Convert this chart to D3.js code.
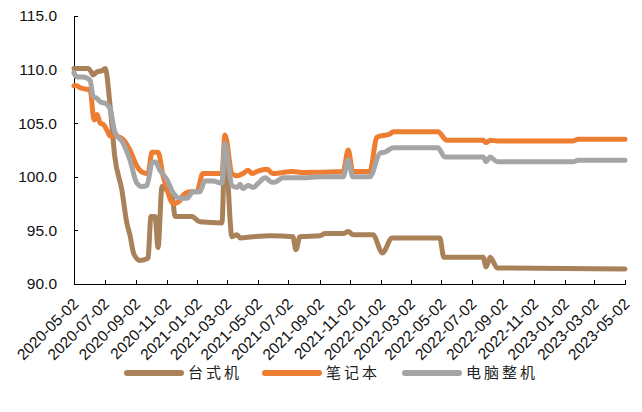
<!DOCTYPE html>
<html>
<head>
<meta charset="utf-8">
<script src="https://cdn.jsdelivr.net/npm/d3@7/dist/d3.min.js"></script>
<style>
  html, body { margin: 0; padding: 0; background: #fff; }
  svg { display: block; }
  .axis text { font-family: "Liberation Sans", Arial, sans-serif; font-size: 15.5px; fill: #111; }
  .axis path, .axis line { stroke: #000; stroke-width: 1; shape-rendering: crispEdges; }
  .legend text { font-family: "Noto Sans CJK SC", sans-serif; font-size: 15px; letter-spacing: 3px; fill: #222; }
</style>
</head>
<body>
<svg id="chart" width="642" height="412"></svg>
<script>
// Price index series (weekly readings, key turning points)
const seriesNames = ["台式机", "笔记本", "电脑整机"];
const seriesColors = ["#A9825A", "#ED7D31", "#A5A5A5"];

const desktopDates = ["2020-05-02","2020-05-30","2020-06-05","2020-06-09","2020-06-17","2020-06-27","2020-07-03","2020-07-13","2020-07-22","2020-08-05","2020-08-15","2020-08-21","2020-08-29","2020-09-10","2020-09-26","2020-10-02","2020-10-10","2020-10-16","2020-10-24","2020-11-03","2020-11-13","2020-11-19","2020-12-22","2021-01-07","2021-02-20","2021-02-26","2021-03-12","2021-03-22","2021-03-28","2021-04-21","2021-05-27","2021-07-11","2021-07-17","2021-07-25","2021-09-03","2021-09-13","2021-10-19","2021-10-29","2021-11-07","2021-12-17","2022-01-05","2022-01-24","2022-04-29","2022-05-07","2022-07-24","2022-07-30","2022-08-07","2022-08-21","2023-05-02"];
const desktopValues = [110.1,110.1,109.8,109.5,109.8,109.9,110.1,106.5,101.9,98.8,95.7,94.6,92.8,92.2,92.4,96.3,96.3,93.4,99.1,98.7,98.2,96.3,96.3,95.8,95.7,103.0,94.4,94.6,94.3,94.4,94.5,94.4,93.2,94.4,94.5,94.7,94.7,94.9,94.6,94.6,92.9,94.3,94.3,92.5,92.5,91.6,92.5,91.5,91.4];

const laptopDates = ["2020-05-02","2020-05-08","2020-05-14","2020-06-03","2020-06-11","2020-06-17","2020-06-23","2020-06-29","2020-07-07","2020-07-13","2020-07-22","2020-08-07","2020-08-21","2020-09-04","2020-09-16","2020-09-26","2020-10-04","2020-10-16","2020-10-26","2020-11-03","2020-11-15","2020-11-29","2020-12-05","2020-12-19","2021-01-01","2021-01-13","2021-02-20","2021-02-26","2021-03-12","2021-03-22","2021-04-03","2021-04-13","2021-04-21","2021-05-01","2021-05-21","2021-06-01","2021-07-11","2021-07-31","2021-10-19","2021-10-29","2021-11-07","2021-12-11","2021-12-25","2022-01-20","2022-01-26","2022-04-25","2022-05-13","2022-07-24","2022-07-30","2022-08-07","2022-08-21","2023-01-19","2023-01-29","2023-05-02"];
const laptopValues = [108.5,108.5,108.3,108.1,105.3,105.8,105.0,104.9,104.3,103.8,103.8,103.5,102.5,101.0,100.4,100.3,102.3,102.3,100.1,98.8,97.5,97.8,98.3,98.6,98.6,100.3,100.3,103.9,100.3,100.1,100.3,100.6,100.3,100.5,100.7,100.3,100.5,100.4,100.5,102.5,100.5,100.5,103.7,104.0,104.2,104.2,103.4,103.4,103.2,103.4,103.35,103.35,103.5,103.5];

const pcDates = ["2020-05-02","2020-05-08","2020-05-20","2020-06-03","2020-06-09","2020-06-17","2020-06-23","2020-07-05","2020-07-13","2020-07-22","2020-08-07","2020-08-21","2020-09-04","2020-09-14","2020-09-24","2020-10-04","2020-10-10","2020-10-20","2020-11-03","2020-11-15","2020-11-29","2020-12-13","2020-12-24","2021-01-07","2021-01-17","2021-02-02","2021-02-20","2021-02-26","2021-03-12","2021-03-22","2021-03-28","2021-04-03","2021-04-13","2021-04-23","2021-05-03","2021-05-17","2021-05-30","2021-06-05","2021-06-21","2021-07-31","2021-09-03","2021-10-19","2021-10-29","2021-11-07","2021-12-11","2021-12-31","2022-01-10","2022-01-26","2022-04-25","2022-05-09","2022-07-24","2022-07-30","2022-08-07","2022-08-21","2023-01-19","2023-01-29","2023-05-02"];
const pcValues = [109.7,109.3,109.3,109.0,107.5,107.3,107.0,106.8,106.3,104.2,103.2,101.6,99.4,99.1,99.2,101.3,101.4,100.6,99.7,98.5,98.0,98.0,98.6,98.6,99.6,99.6,99.4,103.1,99.2,99.0,99.3,98.9,99.2,99.0,99.4,99.9,99.5,99.5,99.9,99.9,100.0,100.0,101.6,100.0,100.0,102.2,102.3,102.7,102.7,101.85,101.85,101.4,101.85,101.4,101.4,101.55,101.55];

const xTickLabels = ["2020-05-02","2020-07-02","2020-09-02","2020-11-02","2021-01-02","2021-03-02","2021-05-02","2021-07-02","2021-09-02","2021-11-02","2022-01-02","2022-03-02","2022-05-02","2022-07-02","2022-09-02","2022-11-02","2023-01-02","2023-03-02","2023-05-02"];
const yTicks = [90, 95, 100, 105, 110, 115];

const parse = d3.utcParse("%Y-%m-%d");
const series = [
  { name: seriesNames[0], color: seriesColors[0], dates: desktopDates, values: desktopValues },
  { name: seriesNames[1], color: seriesColors[1], dates: laptopDates, values: laptopValues },
  { name: seriesNames[2], color: seriesColors[2], dates: pcDates, values: pcValues }
].map(s => ({ ...s, points: s.dates.map((d, i) => ({ date: parse(d), value: s.values[i] })) }));

const svg = d3.select("#chart");
svg.append("rect").attr("width", 642).attr("height", 412).attr("fill", "#fff");

const plot = { left: 74, right: 625, top: 16, bottom: 284 };

const x = d3.scaleUtc()
  .domain([parse(xTickLabels[0]), parse(xTickLabels[xTickLabels.length - 1])])
  .range([plot.left, plot.right]);
const y = d3.scaleLinear().domain([90, 115]).range([plot.bottom, plot.top]);

// Y axis with inward ticks
svg.append("g")
  .attr("class", "axis")
  .attr("transform", `translate(${plot.left},0)`)
  .call(d3.axisLeft(y).tickValues(yTicks).tickFormat(d3.format(".1f"))
    .tickSizeInner(-4).tickSizeOuter(0).tickPadding(17));

// X axis with rotated date labels
const xAxis = svg.append("g")
  .attr("class", "axis")
  .attr("transform", `translate(0,${plot.bottom})`)
  .call(d3.axisBottom(x).tickValues(xTickLabels.map(parse))
    .tickFormat(d3.utcFormat("%Y-%m-%d"))
    .tickSizeInner(-4).tickSizeOuter(0).tickPadding(0));
xAxis.selectAll("text")
  .attr("y", 0).attr("dy", 0)
  .attr("text-anchor", "end")
  .attr("transform", "translate(5,21) rotate(-45)");

// Series lines
const line = d3.line()
  .x(d => x(d.date))
  .y(d => y(d.value))
  .curve(d3.curveMonotoneX);

svg.append("g").selectAll("path")
  .data(series)
  .join("path")
  .attr("d", d => line(d.points))
  .attr("fill", "none")
  .attr("stroke", d => d.color)
  .attr("stroke-width", 5)
  .attr("stroke-linejoin", "round")
  .attr("stroke-linecap", "round");

// Legend
const legendX = [127, 265, 405];
const legend = svg.append("g").attr("class", "legend")
  .selectAll("g").data(series).join("g")
  .attr("transform", (d, i) => `translate(${legendX[i]},373)`);
legend.append("line")
  .attr("x1", 0).attr("x2", 54).attr("y1", 0).attr("y2", 0)
  .attr("stroke", d => d.color).attr("stroke-width", 6).attr("stroke-linecap", "round");
legend.append("text")
  .attr("x", 61).attr("y", 0).attr("dy", "0.36em")
  .text(d => d.name);
</script>
</body>
</html>
